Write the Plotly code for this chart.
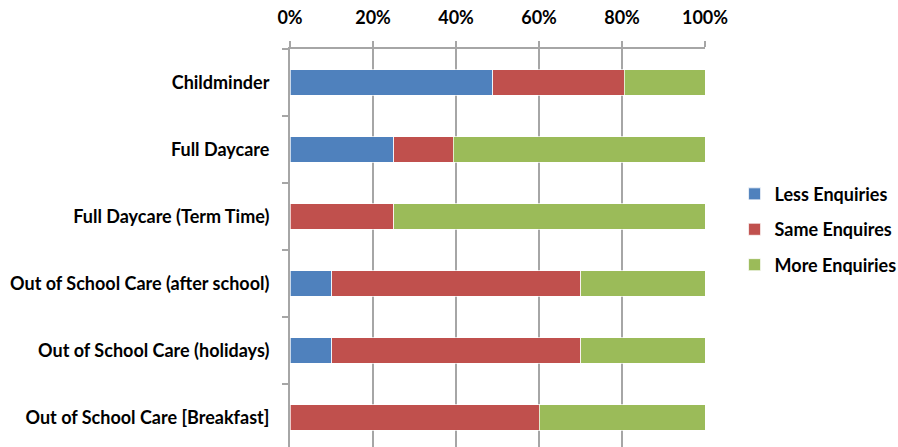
import plotly.graph_objects as go

categories = [
    "Childminder",
    "Full Daycare",
    "Full Daycare (Term Time)",
    "Out of School Care (after school)",
    "Out of School Care (holidays)",
    "Out of School Care [Breakfast]",
]
less_enquiries = [48.8, 25.0, 0.0, 10.0, 10.0, 0.0]
same_enquiries = [31.7, 14.3, 25.0, 60.0, 60.0, 60.0]
more_enquiries = [19.5, 60.7, 75.0, 30.0, 30.0, 40.0]
x_ticks = [0, 20, 40, 60, 80, 100]
x_tick_labels = ["0%", "20%", "40%", "60%", "80%", "100%"]

series = [
    ("Less Enquiries", less_enquiries, "#4F81BD"),
    ("Same Enquires", same_enquiries, "#C0504D"),
    ("More Enquiries", more_enquiries, "#9BBB59"),
]

FONT = "Lato"
FS = 18
fig = go.Figure()
for i, (name, vals, col) in enumerate(series):
    fig.add_trace(go.Bar(
        y=categories, x=vals, name=name, orientation="h",
        marker=dict(color=col, line=dict(color="rgba(255,255,255,0.7)", width=1)),
        legendgroup=f"g{i}",
    ))

fig.update_layout(
    width=898, height=447,
    margin=dict(l=290, r=193, t=49, b=0, pad=0, autoexpand=False),
    barmode="stack", bargap=0.62,
    plot_bgcolor="white", paper_bgcolor="white",
    font=dict(family=FONT, size=FS, color="#000000"),
    showlegend=True,
    legend=dict(
        xref="container", yref="container",
        x=0.818, xanchor="left", y=0.607, yanchor="top",
        traceorder="grouped", tracegroupgap=9,
        font=dict(family=FONT, size=FS, color="#000000", weight="bold"),
        itemwidth=30, bgcolor="rgba(0,0,0,0)",
    ),
    xaxis=dict(
        side="top", range=[0, 100], tickvals=x_ticks, ticktext=x_tick_labels,
        showgrid=True, gridcolor="#A6A6A6", gridwidth=1.5,
        showline=True, linecolor="#A6A6A6", linewidth=1.5,
        ticks="outside", ticklen=6, tickcolor="#A6A6A6", tickwidth=1.5,
        tickfont=dict(family=FONT, size=FS, color="#000000", weight="bold"),
        ticklabelstandoff=10,
        zeroline=False, fixedrange=True,
    ),
    yaxis=dict(
        categoryorder="array", categoryarray=categories,
        range=[5.44, -0.5],
        tickson="boundaries",
        showline=True, linecolor="#A6A6A6", linewidth=2,
        ticks="outside", ticklen=6, tickcolor="#A6A6A6", tickwidth=1.5,
        tickfont=dict(family=FONT, size=FS, color="#000000", weight="bold"),
        ticklabelstandoff=15,
        showgrid=False, zeroline=False,
    ),
)

fig.write_html(
    "out.html",
    config={"displayModeBar": False},
    post_script="document.body.style.margin='0';",
)
